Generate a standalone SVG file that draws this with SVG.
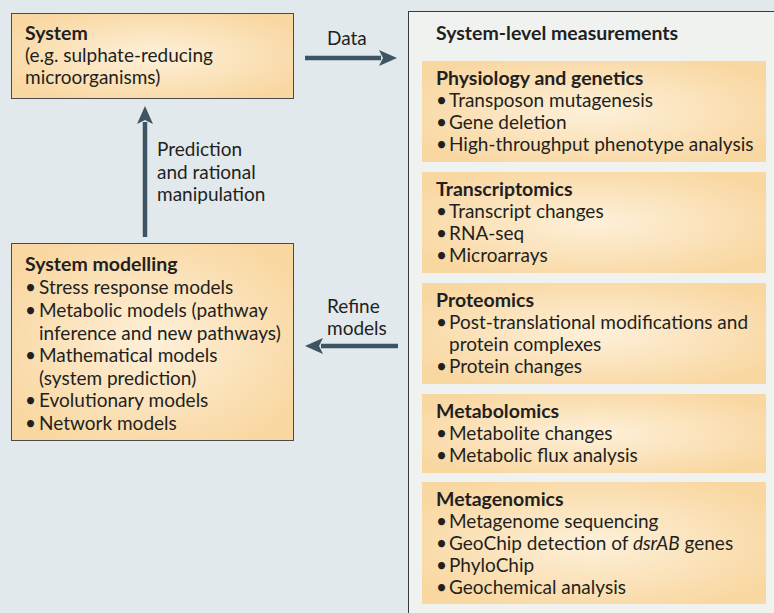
<svg xmlns="http://www.w3.org/2000/svg" width="774" height="613" viewBox="0 0 774 613">
<defs>
<radialGradient id="g" cx="50%" cy="50%" r="60%">
<stop offset="0" stop-color="#fdf0d9"/>
<stop offset="1" stop-color="#f9d7a1"/>
</radialGradient>
<marker id="ah" viewBox="0 0 18 16" refX="2" refY="8" markerWidth="18" markerHeight="16" markerUnits="userSpaceOnUse" orient="auto">
<path d="M0,0 L18,8 L0,16 L4,8 Z" fill="#3d5462"/>
</marker>
<style>
text{font-family:Lato,"Open Sans",sans-serif;font-size:19px;fill:#231f20}
.b{font-weight:bold;font-size:19.5px}
.box{fill:url(#g);stroke:#4a4a4a;stroke-width:1}
.inner{fill:url(#g)}
.conn{stroke:#3d5462;stroke-width:4.5;fill:none;marker-end:url(#ah)}
</style>
</defs>
<rect width="774" height="613" fill="#e2e9ec"/>
<g id="connectors">
<line class="conn" x1="305" y1="58" x2="381" y2="58"/>
<line class="conn" x1="145" y1="237" x2="145" y2="122"/>
<line class="conn" x1="398" y1="346" x2="321" y2="346"/>
<text x="327" y="45">Data</text>
<text x="157" y="156">Prediction</text>
<text x="157" y="179">and rational</text>
<text x="157" y="201">manipulation</text>
<text x="327" y="313">Refine</text>
<text x="327" y="335">models</text>
</g>
<g id="system">
<rect class="box" x="11.5" y="13.5" width="282" height="85"/>
<text class="b" x="25" y="40">System</text>
<text x="25" y="62">(e.g. sulphate-reducing</text>
<text x="25" y="84">microorganisms)</text>
</g>
<g id="modelling">
<rect class="box" x="11.5" y="243.5" width="282" height="197"/>
<text class="b" x="25" y="271">System modelling</text>
<text x="25" y="294">•<tspan x="39">Stress response models</tspan></text>
<text x="25" y="317">•<tspan x="39">Metabolic models (pathway</tspan></text>
<text x="39" y="340">inference and new pathways)</text>
<text x="25" y="362">•<tspan x="39">Mathematical models</tspan></text>
<text x="39" y="385">(system prediction)</text>
<text x="25" y="407">•<tspan x="39">Evolutionary models</tspan></text>
<text x="25" y="430">•<tspan x="39">Network models</tspan></text>
</g>
<g id="measurements">
<rect x="408.5" y="11.5" width="380" height="620" fill="#f0f2f0" stroke="#3a3a3a" stroke-width="1"/>
<text class="b" x="436" y="40">System-level measurements</text>
</g>
<g id="physiology">
<rect class="inner" x="422" y="61" width="344" height="101"/>
<text class="b" x="436" y="85">Physiology and genetics</text>
<text x="436" y="107">•<tspan x="449">Transposon mutagenesis</tspan></text>
<text x="436" y="129">•<tspan x="449">Gene deletion</tspan></text>
<text x="436" y="151">•<tspan x="449">High-throughput phenotype analysis</tspan></text>
</g>
<g id="transcriptomics">
<rect class="inner" x="422" y="172" width="344" height="101"/>
<text class="b" x="436" y="196">Transcriptomics</text>
<text x="436" y="218">•<tspan x="449">Transcript changes</tspan></text>
<text x="436" y="240">•<tspan x="449">RNA-seq</tspan></text>
<text x="436" y="262">•<tspan x="449">Microarrays</tspan></text>
</g>
<g id="proteomics">
<rect class="inner" x="422" y="283" width="344" height="101"/>
<text class="b" x="436" y="307">Proteomics</text>
<text x="436" y="329">•<tspan x="449">Post-translational modifications and</tspan></text>
<text x="449" y="351">protein complexes</text>
<text x="436" y="373">•<tspan x="449">Protein changes</tspan></text>
</g>
<g id="metabolomics">
<rect class="inner" x="422" y="394" width="344" height="79"/>
<text class="b" x="436" y="418">Metabolomics</text>
<text x="436" y="440">•<tspan x="449">Metabolite changes</tspan></text>
<text x="436" y="462">•<tspan x="449">Metabolic flux analysis</tspan></text>
</g>
<g id="metagenomics">
<rect class="inner" x="422" y="482" width="344" height="122"/>
<text class="b" x="436" y="506">Metagenomics</text>
<text x="436" y="528">•<tspan x="449">Metagenome sequencing</tspan></text>
<text x="436" y="550">•<tspan x="449">GeoChip detection of <tspan font-style="italic">dsrAB</tspan> genes</tspan></text>
<text x="436" y="572">•<tspan x="449">PhyloChip</tspan></text>
<text x="436" y="594">•<tspan x="449">Geochemical analysis</tspan></text>
</g>
</svg>
